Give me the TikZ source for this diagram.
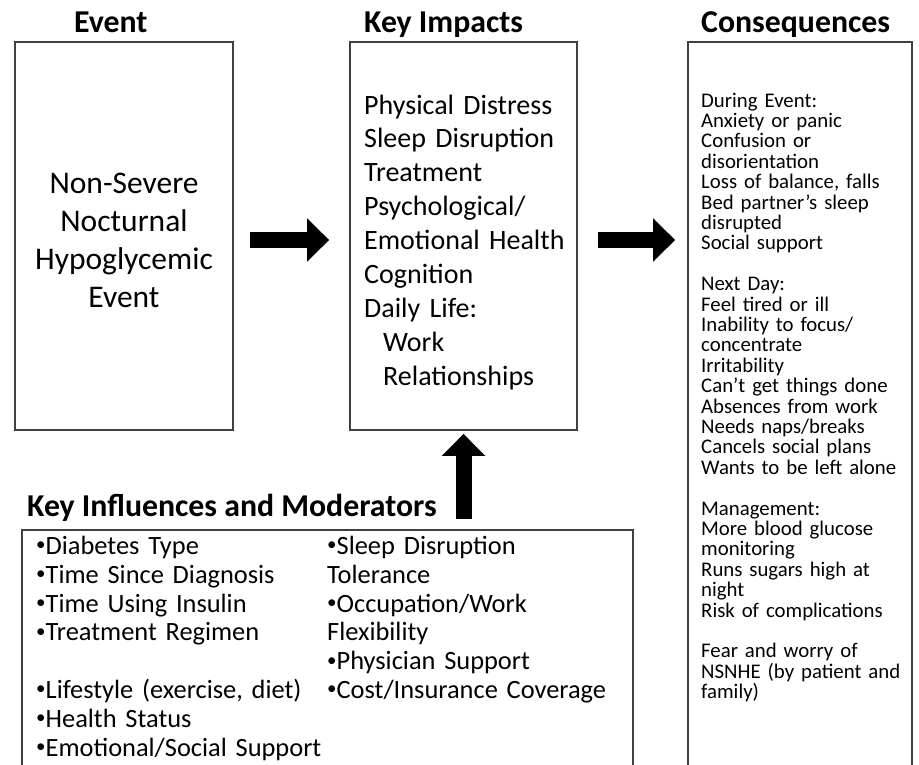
\documentclass[tikz,border=0pt]{standalone}
\usepackage{fontspec}
\usepackage{graphicx}
\setmainfont{Carlito}
\usetikzlibrary{arrows.meta,shadows}
\newcommand{\smbul}{\raisebox{0.14em}{\scalebox{0.72}{\textbullet}}}
\begin{document}
\begin{tikzpicture}[x=1pt,y=-1pt,
  box/.style={draw=black!75, line width=1.7pt, fill=white, rectangle, inner sep=0pt,
    drop shadow={shadow xshift=1.2pt, shadow yshift=-1.2pt, fill=black!40, opacity=0.6}},
  head/.style={font=\bfseries\fontsize{31.8}{36}\selectfont, inner sep=0pt, anchor=base west},
  bodytxt/.style={inner sep=0pt, anchor=base west, align=left},
  blockarrow/.style={line width=16pt, draw=black, -{Triangle[length=22pt 0 0, width=42pt 0 0]}}
]
\useasboundingbox (0,0) rectangle (919,764);
\clip (0,0) rectangle (919,764);
\fill[white] (0,0) rectangle (919,764);

% boxes
\node[box, minimum width=218pt, minimum height=388pt] (ev) at (124,236) {};
\node[box, minimum width=227pt, minimum height=388pt] (ki) at (463.5,236) {};
\node[box, minimum width=224pt, minimum height=758pt] (cq) at (800,421) {};
\node[box, minimum width=611pt, minimum height=270pt] (bm) at (327.5,665) {};

% headings
\node[head] (hev) at (74,32) {Event};
\node[head] (hki) at (364,32) {Key Impacts};
\node[head] (hcq) at (701,32) {Consequences};
\node[head] (hbm) at (27,516) {Key Influences and Moderators};

% box texts
\node[inner sep=0pt, anchor=base, text width=218pt, align=center,
  font=\fontsize{31.5}{38}\selectfont] (tev) at (124,193)
  {Non-Severe\\Nocturnal\\Hypoglycemic\\Event};

\node[bodytxt, text width=212pt, font=\fontsize{28}{33.9}\selectfont] (tki) at (364,114)
  {Physical Distress\\Sleep Disruption\\Treatment\\Psychological/\\Emotional Health\\Cognition\\Daily Life:\\\hspace*{19pt}Work\\\hspace*{19pt}Relationships};

\node[bodytxt, text width=215pt, font=\fontsize{20.8}{20.4}\selectfont] (tcq) at (701,107)
  {During Event:\\Anxiety or panic\\Confusion or\\disorientation\\Loss of balance, falls\\Bed partner’s sleep\\disrupted\\Social support\\[20.4pt]
   Next Day:\\Feel tired or ill\\Inability to focus/\\concentrate\\Irritability\\Can’t get things done\\Absences from work\\Needs naps/breaks\\Cancels social plans\\Wants to be left alone\\[20.4pt]
   Management:\\More blood glucose\\monitoring\\Runs sugars high at\\night\\Risk of complications\\[20.4pt]
   Fear and worry of\\NSNHE (by patient and\\family)};

\node[bodytxt, text width=290pt, font=\fontsize{26.4}{28.8}\selectfont] (tbl) at (36,554.5)
  {\smbul Diabetes Type\\\smbul Time Since Diagnosis\\\smbul Time Using Insulin\\\smbul Treatment Regimen\\[28.8pt]
   \smbul Lifestyle (exercise, diet)\\\smbul Health Status\\\smbul Emotional/Social Support};

\node[bodytxt, text width=300pt, font=\fontsize{26.4}{28.8}\selectfont] (tbr) at (327,554.5)
  {\smbul Sleep Disruption\\Tolerance\\\smbul Occupation/Work\\Flexibility\\\smbul Physician Support\\\smbul Cost/Insurance Coverage};

% arrows
\coordinate (arow) at (0,240);
\draw[blockarrow, shorten <=16pt, shorten >=20pt] (ev.east |- arow) -- (ki.west |- arow);
\draw[blockarrow, shorten <=20pt, shorten >=12pt] (ki.east |- arow) -- (cq.west |- arow);
\draw[blockarrow, shorten <=10pt, shorten >=3pt] (ki.south |- bm.north) -- (ki.south);
\end{tikzpicture}
\end{document}
